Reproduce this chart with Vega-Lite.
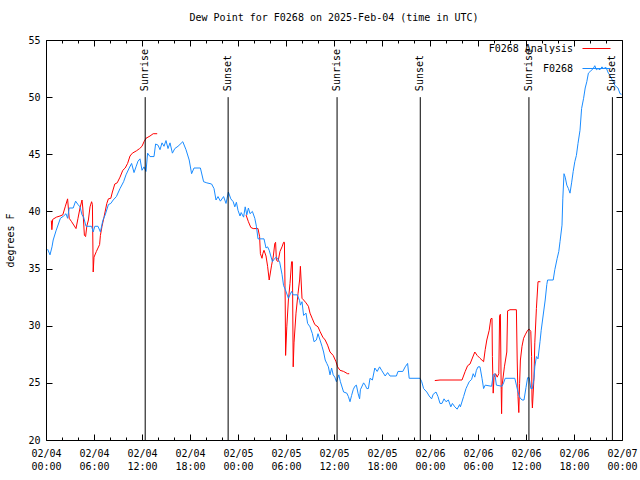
{
  "$schema": "https://vega.github.io/schema/vega-lite/v6.json",
  "width": 576,
  "height": 400,
  "autosize": {"type": "none"},
  "padding": {"left": 46, "top": 40, "right": 18, "bottom": 40},
  "background": "white",
  "title": {"text": "Dew Point for F0268 on 2025-Feb-04 (time in UTC)", "font": "DejaVu Sans Mono", "fontSize": 10, "fontWeight": "normal", "color": "black", "anchor": "middle", "offset": 11},
  "config": {
    "font": "DejaVu Sans Mono",
    "view": {"stroke": "black", "strokeWidth": 1},
    "axis": {"labelFont": "DejaVu Sans Mono", "labelFontSize": 10, "labelColor": "black", "titleFont": "DejaVu Sans Mono", "titleFontSize": 10, "titleFontWeight": "normal", "titleColor": "black", "domain": false, "grid": false, "tickColor": "black", "tickWidth": 1},
    "legend": {"labelFont": "DejaVu Sans Mono", "labelFontSize": 10, "labelColor": "black"}
  },
  "datasets": {
    "obs": [
      {"t":"2025-02-04T00:12","v":36.7},{"t":"2025-02-04T00:30","v":36.2},{"t":"2025-02-04T00:45","v":36.9},{"t":"2025-02-04T00:54","v":37.5},{"t":"2025-02-04T01:15","v":38.3},{"t":"2025-02-04T01:33","v":38.9},{"t":"2025-02-04T01:48","v":39.4},{"t":"2025-02-04T02:12","v":39.6},{"t":"2025-02-04T02:30","v":39.8},{"t":"2025-02-04T02:42","v":39.4},{"t":"2025-02-04T02:54","v":40.3},{"t":"2025-02-04T03:24","v":40.3},{"t":"2025-02-04T03:42","v":40.9},{"t":"2025-02-04T04:00","v":40.6},{"t":"2025-02-04T04:15","v":40.4},{"t":"2025-02-04T04:30","v":39.7},{"t":"2025-02-04T04:42","v":39.5},{"t":"2025-02-04T05:00","v":38.7},{"t":"2025-02-04T05:42","v":38.7},{"t":"2025-02-04T05:54","v":38.2},{"t":"2025-02-04T06:06","v":38.7},{"t":"2025-02-04T06:30","v":38.7},{"t":"2025-02-04T06:48","v":38.2},{"t":"2025-02-04T07:06","v":39.2},{"t":"2025-02-04T07:24","v":39.7},{"t":"2025-02-04T07:48","v":40.6},{"t":"2025-02-04T08:06","v":40.7},{"t":"2025-02-04T08:24","v":41.0},{"t":"2025-02-04T08:48","v":41.3},{"t":"2025-02-04T09:15","v":42.0},{"t":"2025-02-04T09:42","v":42.6},{"t":"2025-02-04T10:00","v":43.2},{"t":"2025-02-04T10:24","v":43.8},{"t":"2025-02-04T10:42","v":44.2},{"t":"2025-02-04T11:00","v":43.4},{"t":"2025-02-04T11:15","v":43.9},{"t":"2025-02-04T11:30","v":44.4},{"t":"2025-02-04T11:45","v":44.6},{"t":"2025-02-04T12:00","v":43.6},{"t":"2025-02-04T12:15","v":43.9},{"t":"2025-02-04T12:30","v":43.5},{"t":"2025-02-04T12:42","v":45.1},{"t":"2025-02-04T13:00","v":44.8},{"t":"2025-02-04T13:30","v":44.8},{"t":"2025-02-04T13:42","v":45.9},{"t":"2025-02-04T14:00","v":45.8},{"t":"2025-02-04T14:15","v":45.4},{"t":"2025-02-04T14:30","v":46.0},{"t":"2025-02-04T14:45","v":45.7},{"t":"2025-02-04T15:00","v":46.2},{"t":"2025-02-04T15:15","v":45.5},{"t":"2025-02-04T15:30","v":46.0},{"t":"2025-02-04T15:48","v":45.1},{"t":"2025-02-04T16:06","v":45.5},{"t":"2025-02-04T16:30","v":45.7},{"t":"2025-02-04T17:06","v":46.1},{"t":"2025-02-04T17:30","v":45.4},{"t":"2025-02-04T17:54","v":44.5},{"t":"2025-02-04T18:12","v":43.3},{"t":"2025-02-04T18:30","v":43.8},{"t":"2025-02-04T19:18","v":43.8},{"t":"2025-02-04T19:42","v":42.6},{"t":"2025-02-04T20:06","v":42.5},{"t":"2025-02-04T20:42","v":42.4},{"t":"2025-02-04T21:00","v":42.0},{"t":"2025-02-04T21:15","v":41.0},{"t":"2025-02-04T21:30","v":41.3},{"t":"2025-02-04T21:48","v":40.9},{"t":"2025-02-04T22:12","v":41.3},{"t":"2025-02-04T22:30","v":40.7},{"t":"2025-02-04T22:48","v":41.7},{"t":"2025-02-04T23:06","v":41.1},{"t":"2025-02-04T23:24","v":40.85},{"t":"2025-02-04T23:36","v":40.4},{"t":"2025-02-04T23:48","v":40.8},
      {"t":"2025-02-05T00:00","v":40.1},{"t":"2025-02-05T00:15","v":39.6},{"t":"2025-02-05T00:24","v":39.9},{"t":"2025-02-05T00:42","v":39.5},{"t":"2025-02-05T00:54","v":40.4},{"t":"2025-02-05T01:06","v":39.7},{"t":"2025-02-05T01:18","v":40.3},{"t":"2025-02-05T01:30","v":39.8},{"t":"2025-02-05T01:48","v":40.0},{"t":"2025-02-05T02:06","v":39.4},{"t":"2025-02-05T02:18","v":38.7},{"t":"2025-02-05T02:30","v":37.6},{"t":"2025-02-05T03:15","v":37.6},{"t":"2025-02-05T03:30","v":36.8},{"t":"2025-02-05T03:42","v":36.9},{"t":"2025-02-05T03:54","v":36.6},{"t":"2025-02-05T04:18","v":35.6},{"t":"2025-02-05T04:36","v":35.9},{"t":"2025-02-05T04:48","v":36.0},{"t":"2025-02-05T05:12","v":35.6},{"t":"2025-02-05T05:30","v":34.5},{"t":"2025-02-05T05:42","v":33.5},{"t":"2025-02-05T05:54","v":33.2},{"t":"2025-02-05T06:18","v":32.4},{"t":"2025-02-05T06:30","v":32.7},{"t":"2025-02-05T06:42","v":33.0},{"t":"2025-02-05T06:54","v":32.7},{"t":"2025-02-05T07:24","v":32.7},{"t":"2025-02-05T07:42","v":32.2},{"t":"2025-02-05T07:48","v":31.8},{"t":"2025-02-05T08:00","v":32.1},{"t":"2025-02-05T08:12","v":30.9},{"t":"2025-02-05T08:30","v":31.1},{"t":"2025-02-05T08:42","v":30.2},{"t":"2025-02-05T09:00","v":29.9},{"t":"2025-02-05T09:18","v":29.3},{"t":"2025-02-05T09:30","v":28.6},{"t":"2025-02-05T09:48","v":28.75},{"t":"2025-02-05T10:00","v":29.3},{"t":"2025-02-05T10:15","v":28.75},{"t":"2025-02-05T10:30","v":28.2},{"t":"2025-02-05T10:42","v":27.7},{"t":"2025-02-05T10:54","v":27.0},{"t":"2025-02-05T11:06","v":26.7},{"t":"2025-02-05T11:18","v":26.4},{"t":"2025-02-05T11:30","v":25.7},{"t":"2025-02-05T11:42","v":26.3},{"t":"2025-02-05T11:54","v":25.7},{"t":"2025-02-05T12:06","v":25.5},{"t":"2025-02-05T12:18","v":25.1},{"t":"2025-02-05T12:36","v":25.7},{"t":"2025-02-05T12:48","v":25.1},{"t":"2025-02-05T13:12","v":24.2},{"t":"2025-02-05T13:36","v":24.1},{"t":"2025-02-05T13:48","v":23.8},{"t":"2025-02-05T14:00","v":23.35},{"t":"2025-02-05T14:12","v":23.9},{"t":"2025-02-05T14:24","v":24.4},{"t":"2025-02-05T14:36","v":24.7},{"t":"2025-02-05T14:48","v":24.8},{"t":"2025-02-05T15:00","v":24.1},{"t":"2025-02-05T15:12","v":23.6},{"t":"2025-02-05T15:18","v":24.4},{"t":"2025-02-05T15:42","v":25.0},{"t":"2025-02-05T15:54","v":24.8},{"t":"2025-02-05T16:06","v":24.5},{"t":"2025-02-05T16:18","v":24.5},{"t":"2025-02-05T16:30","v":25.4},{"t":"2025-02-05T16:48","v":25.25},{"t":"2025-02-05T17:06","v":26.3},{"t":"2025-02-05T17:24","v":26.0},{"t":"2025-02-05T17:42","v":26.4},{"t":"2025-02-05T17:57","v":26.1},{"t":"2025-02-05T18:24","v":25.6},{"t":"2025-02-05T18:42","v":25.9},{"t":"2025-02-05T19:00","v":25.6},{"t":"2025-02-05T19:48","v":25.6},{"t":"2025-02-05T20:00","v":26.0},{"t":"2025-02-05T20:36","v":26.0},{"t":"2025-02-05T20:54","v":26.4},{"t":"2025-02-05T21:12","v":26.7},{"t":"2025-02-05T21:24","v":25.4},{"t":"2025-02-05T22:45","v":25.4},{"t":"2025-02-05T22:58","v":25.1},{"t":"2025-02-05T23:12","v":24.5},{"t":"2025-02-05T23:36","v":24.2},{"t":"2025-02-05T23:54","v":23.85},
      {"t":"2025-02-06T00:12","v":23.6},{"t":"2025-02-06T00:24","v":24.0},{"t":"2025-02-06T00:45","v":24.2},{"t":"2025-02-06T01:00","v":23.8},{"t":"2025-02-06T01:15","v":23.2},{"t":"2025-02-06T01:30","v":23.2},{"t":"2025-02-06T01:45","v":23.6},{"t":"2025-02-06T02:00","v":23.35},{"t":"2025-02-06T02:18","v":23.5},{"t":"2025-02-06T02:36","v":22.9},{"t":"2025-02-06T02:48","v":23.2},{"t":"2025-02-06T03:06","v":22.9},{"t":"2025-02-06T03:24","v":22.7},{"t":"2025-02-06T03:42","v":23.1},{"t":"2025-02-06T03:48","v":22.9},{"t":"2025-02-06T04:12","v":23.8},{"t":"2025-02-06T04:30","v":24.5},{"t":"2025-02-06T04:42","v":24.8},{"t":"2025-02-06T04:54","v":25.1},{"t":"2025-02-06T05:12","v":25.3},{"t":"2025-02-06T05:24","v":25.8},{"t":"2025-02-06T05:36","v":25.5},{"t":"2025-02-06T05:48","v":26.1},{"t":"2025-02-06T06:00","v":26.4},{"t":"2025-02-06T06:15","v":26.4},{"t":"2025-02-06T06:30","v":25.4},{"t":"2025-02-06T06:42","v":24.5},{"t":"2025-02-06T06:54","v":24.8},{"t":"2025-02-06T07:42","v":24.7},{"t":"2025-02-06T07:54","v":25.7},{"t":"2025-02-06T08:06","v":25.8},{"t":"2025-02-06T08:18","v":24.8},{"t":"2025-02-06T09:00","v":24.7},{"t":"2025-02-06T09:12","v":25.0},{"t":"2025-02-06T09:24","v":25.4},{"t":"2025-02-06T10:36","v":25.4},{"t":"2025-02-06T10:48","v":24.8},{"t":"2025-02-06T11:00","v":24.2},{"t":"2025-02-06T11:15","v":23.7},{"t":"2025-02-06T11:30","v":23.5},{"t":"2025-02-06T11:45","v":23.5},{"t":"2025-02-06T12:00","v":24.6},{"t":"2025-02-06T12:12","v":25.45},{"t":"2025-02-06T12:24","v":25.45},{"t":"2025-02-06T12:36","v":24.5},{"t":"2025-02-06T12:48","v":24.5},{"t":"2025-02-06T13:00","v":25.4},{"t":"2025-02-06T13:06","v":26.4},{"t":"2025-02-06T13:18","v":27.3},{"t":"2025-02-06T13:30","v":27.1},{"t":"2025-02-06T13:45","v":28.6},{"t":"2025-02-06T13:54","v":29.6},{"t":"2025-02-06T14:12","v":31.2},{"t":"2025-02-06T14:24","v":32.25},{"t":"2025-02-06T14:36","v":33.6},{"t":"2025-02-06T14:42","v":34.0},{"t":"2025-02-06T15:24","v":34.0},{"t":"2025-02-06T15:36","v":34.9},{"t":"2025-02-06T15:54","v":35.9},{"t":"2025-02-06T16:06","v":36.5},{"t":"2025-02-06T16:15","v":37.35},{"t":"2025-02-06T16:30","v":38.8},{"t":"2025-02-06T16:36","v":41.1},{"t":"2025-02-06T16:45","v":43.3},{"t":"2025-02-06T16:54","v":43.0},{"t":"2025-02-06T17:06","v":42.3},{"t":"2025-02-06T17:18","v":42.0},{"t":"2025-02-06T17:30","v":41.6},{"t":"2025-02-06T17:42","v":42.5},{"t":"2025-02-06T17:54","v":43.5},{"t":"2025-02-06T18:06","v":44.35},{"t":"2025-02-06T18:18","v":44.9},{"t":"2025-02-06T18:30","v":45.95},{"t":"2025-02-06T18:45","v":47.1},{"t":"2025-02-06T18:57","v":49.0},{"t":"2025-02-06T19:12","v":49.9},{"t":"2025-02-06T19:24","v":50.8},{"t":"2025-02-06T19:36","v":51.35},{"t":"2025-02-06T19:48","v":52.1},{"t":"2025-02-06T20:06","v":52.3},{"t":"2025-02-06T20:24","v":52.5},{"t":"2025-02-06T20:36","v":52.75},{"t":"2025-02-06T20:48","v":52.4},{"t":"2025-02-06T21:00","v":52.5},{"t":"2025-02-06T21:15","v":52.4},{"t":"2025-02-06T21:30","v":52.65},{"t":"2025-02-06T21:42","v":52.5},{"t":"2025-02-06T22:00","v":52.6},{"t":"2025-02-06T22:18","v":52.1},{"t":"2025-02-06T22:30","v":51.9},{"t":"2025-02-06T22:42","v":51.6},{"t":"2025-02-06T22:54","v":51.35},{"t":"2025-02-06T23:06","v":51.05},{"t":"2025-02-06T23:18","v":50.9},{"t":"2025-02-06T23:30","v":50.8},{"t":"2025-02-06T23:45","v":50.3},{"t":"2025-02-06T23:57","v":50.25}
    ],
    "ana": [
      {"seg":1,"t":"2025-02-04T00:40","v":39.2},{"seg":1,"t":"2025-02-04T00:44","v":38.4},{"seg":1,"t":"2025-02-04T00:50","v":39.3},{"seg":1,"t":"2025-02-04T01:18","v":39.5},{"seg":1,"t":"2025-02-04T01:45","v":39.6},{"seg":1,"t":"2025-02-04T02:06","v":39.7},{"seg":1,"t":"2025-02-04T02:24","v":40.4},{"seg":1,"t":"2025-02-04T02:42","v":41.1},{"seg":1,"t":"2025-02-04T02:54","v":39.4},{"seg":1,"t":"2025-02-04T03:12","v":39.1},{"seg":1,"t":"2025-02-04T03:45","v":38.5},{"seg":1,"t":"2025-02-04T04:00","v":39.4},{"seg":1,"t":"2025-02-04T04:15","v":40.3},{"seg":1,"t":"2025-02-04T04:30","v":41.0},{"seg":1,"t":"2025-02-04T04:36","v":40.3},{"seg":1,"t":"2025-02-04T04:48","v":37.9},{"seg":1,"t":"2025-02-04T04:57","v":37.8},{"seg":1,"t":"2025-02-04T05:06","v":38.7},{"seg":1,"t":"2025-02-04T05:18","v":39.25},{"seg":1,"t":"2025-02-04T05:30","v":40.4},{"seg":1,"t":"2025-02-04T05:42","v":40.85},{"seg":1,"t":"2025-02-04T05:48","v":40.6},{"seg":1,"t":"2025-02-04T05:54","v":34.7},{"seg":1,"t":"2025-02-04T06:00","v":36.0},{"seg":1,"t":"2025-02-04T06:18","v":36.5},{"seg":1,"t":"2025-02-04T06:42","v":37.1},{"seg":1,"t":"2025-02-04T06:48","v":37.9},{"seg":1,"t":"2025-02-04T07:00","v":38.7},{"seg":1,"t":"2025-02-04T07:15","v":39.5},{"seg":1,"t":"2025-02-04T07:36","v":40.7},{"seg":1,"t":"2025-02-04T07:48","v":41.1},{"seg":1,"t":"2025-02-04T08:06","v":41.15},{"seg":1,"t":"2025-02-04T08:18","v":41.7},{"seg":1,"t":"2025-02-04T08:36","v":42.4},{"seg":1,"t":"2025-02-04T08:54","v":42.5},{"seg":1,"t":"2025-02-04T09:15","v":43.0},{"seg":1,"t":"2025-02-04T09:36","v":43.6},{"seg":1,"t":"2025-02-04T09:54","v":43.8},{"seg":1,"t":"2025-02-04T10:12","v":44.2},{"seg":1,"t":"2025-02-04T10:30","v":44.85},{"seg":1,"t":"2025-02-04T10:48","v":45.1},{"seg":1,"t":"2025-02-04T11:18","v":45.3},{"seg":1,"t":"2025-02-04T11:42","v":45.5},{"seg":1,"t":"2025-02-04T12:00","v":45.7},{"seg":1,"t":"2025-02-04T12:15","v":46.1},{"seg":1,"t":"2025-02-04T12:30","v":46.4},{"seg":1,"t":"2025-02-04T13:00","v":46.6},{"seg":1,"t":"2025-02-04T13:24","v":46.8},{"seg":1,"t":"2025-02-04T13:54","v":46.8},
      {"seg":2,"t":"2025-02-05T01:00","v":39.7},{"seg":2,"t":"2025-02-05T01:18","v":39.1},{"seg":2,"t":"2025-02-05T01:36","v":38.6},{"seg":2,"t":"2025-02-05T01:54","v":38.5},{"seg":2,"t":"2025-02-05T02:30","v":38.5},{"seg":2,"t":"2025-02-05T02:42","v":37.8},{"seg":2,"t":"2025-02-05T02:48","v":36.3},{"seg":2,"t":"2025-02-05T03:00","v":35.9},{"seg":2,"t":"2025-02-05T03:06","v":36.3},{"seg":2,"t":"2025-02-05T03:15","v":36.6},{"seg":2,"t":"2025-02-05T03:30","v":36.1},{"seg":2,"t":"2025-02-05T03:42","v":35.2},{"seg":2,"t":"2025-02-05T03:54","v":34.0},{"seg":2,"t":"2025-02-05T04:12","v":35.3},{"seg":2,"t":"2025-02-05T04:24","v":36.0},{"seg":2,"t":"2025-02-05T04:36","v":37.2},{"seg":2,"t":"2025-02-05T04:42","v":37.3},{"seg":2,"t":"2025-02-05T04:48","v":35.75},{"seg":2,"t":"2025-02-05T05:00","v":35.6},{"seg":2,"t":"2025-02-05T05:15","v":36.5},{"seg":2,"t":"2025-02-05T05:30","v":36.9},{"seg":2,"t":"2025-02-05T05:42","v":37.3},{"seg":2,"t":"2025-02-05T05:48","v":37.3},{"seg":2,"t":"2025-02-05T05:54","v":32.25},{"seg":2,"t":"2025-02-05T05:57","v":27.4},{"seg":2,"t":"2025-02-05T06:06","v":29.9},{"seg":2,"t":"2025-02-05T06:18","v":32.25},{"seg":2,"t":"2025-02-05T06:30","v":33.7},{"seg":2,"t":"2025-02-05T06:42","v":35.6},{"seg":2,"t":"2025-02-05T06:48","v":35.6},{"seg":2,"t":"2025-02-05T06:54","v":26.4},{"seg":2,"t":"2025-02-05T07:00","v":28.5},{"seg":2,"t":"2025-02-05T07:15","v":31.1},{"seg":2,"t":"2025-02-05T07:30","v":32.8},{"seg":2,"t":"2025-02-05T07:42","v":34.0},{"seg":2,"t":"2025-02-05T07:48","v":35.2},{"seg":2,"t":"2025-02-05T08:00","v":32.4},{"seg":2,"t":"2025-02-05T08:12","v":32.25},{"seg":2,"t":"2025-02-05T08:30","v":32.0},{"seg":2,"t":"2025-02-05T08:48","v":31.7},{"seg":2,"t":"2025-02-05T09:00","v":31.1},{"seg":2,"t":"2025-02-05T09:18","v":30.6},{"seg":2,"t":"2025-02-05T09:36","v":30.1},{"seg":2,"t":"2025-02-05T10:00","v":29.9},{"seg":2,"t":"2025-02-05T10:15","v":29.5},{"seg":2,"t":"2025-02-05T10:36","v":29.0},{"seg":2,"t":"2025-02-05T10:54","v":28.75},{"seg":2,"t":"2025-02-05T11:12","v":28.3},{"seg":2,"t":"2025-02-05T11:30","v":27.7},{"seg":2,"t":"2025-02-05T11:54","v":27.4},{"seg":2,"t":"2025-02-05T12:15","v":26.85},{"seg":2,"t":"2025-02-05T12:27","v":26.4},{"seg":2,"t":"2025-02-05T12:45","v":26.1},{"seg":2,"t":"2025-02-05T13:12","v":26.0},{"seg":2,"t":"2025-02-05T13:42","v":25.8},{"seg":2,"t":"2025-02-05T13:54","v":25.8},
      {"seg":3,"t":"2025-02-06T00:36","v":25.2},{"seg":3,"t":"2025-02-06T01:15","v":25.25},{"seg":3,"t":"2025-02-06T04:00","v":25.25},{"seg":3,"t":"2025-02-06T04:24","v":26.0},{"seg":3,"t":"2025-02-06T04:42","v":26.5},{"seg":3,"t":"2025-02-06T05:00","v":26.65},{"seg":3,"t":"2025-02-06T05:12","v":27.0},{"seg":3,"t":"2025-02-06T05:36","v":27.7},{"seg":3,"t":"2025-02-06T05:54","v":27.4},{"seg":3,"t":"2025-02-06T06:15","v":27.15},{"seg":3,"t":"2025-02-06T06:42","v":26.85},{"seg":3,"t":"2025-02-06T06:54","v":27.9},{"seg":3,"t":"2025-02-06T07:06","v":28.75},{"seg":3,"t":"2025-02-06T07:24","v":29.6},{"seg":3,"t":"2025-02-06T07:36","v":30.6},{"seg":3,"t":"2025-02-06T07:45","v":30.65},{"seg":3,"t":"2025-02-06T07:48","v":27.3},{"seg":3,"t":"2025-02-06T07:54","v":24.1},{"seg":3,"t":"2025-02-06T08:00","v":25.5},{"seg":3,"t":"2025-02-06T08:12","v":25.8},{"seg":3,"t":"2025-02-06T08:24","v":25.5},{"seg":3,"t":"2025-02-06T08:36","v":25.8},{"seg":3,"t":"2025-02-06T08:42","v":30.9},{"seg":3,"t":"2025-02-06T08:48","v":31.0},{"seg":3,"t":"2025-02-06T08:54","v":24.4},{"seg":3,"t":"2025-02-06T08:57","v":22.3},{"seg":3,"t":"2025-02-06T09:00","v":24.7},{"seg":3,"t":"2025-02-06T09:18","v":26.4},{"seg":3,"t":"2025-02-06T09:36","v":27.7},{"seg":3,"t":"2025-02-06T09:42","v":31.3},{"seg":3,"t":"2025-02-06T10:00","v":31.4},{"seg":3,"t":"2025-02-06T10:48","v":31.4},{"seg":3,"t":"2025-02-06T10:54","v":27.0},{"seg":3,"t":"2025-02-06T11:00","v":23.8},{"seg":3,"t":"2025-02-06T11:06","v":22.4},{"seg":3,"t":"2025-02-06T11:12","v":24.95},{"seg":3,"t":"2025-02-06T11:18","v":27.0},{"seg":3,"t":"2025-02-06T11:30","v":28.2},{"seg":3,"t":"2025-02-06T11:42","v":28.9},{"seg":3,"t":"2025-02-06T11:54","v":29.2},{"seg":3,"t":"2025-02-06T12:12","v":29.6},{"seg":3,"t":"2025-02-06T12:24","v":29.7},{"seg":3,"t":"2025-02-06T12:36","v":29.5},{"seg":3,"t":"2025-02-06T12:42","v":27.3},{"seg":3,"t":"2025-02-06T12:45","v":23.5},{"seg":3,"t":"2025-02-06T12:48","v":22.8},{"seg":3,"t":"2025-02-06T13:00","v":25.5},{"seg":3,"t":"2025-02-06T13:06","v":28.5},{"seg":3,"t":"2025-02-06T13:18","v":31.5},{"seg":3,"t":"2025-02-06T13:30","v":33.85},{"seg":3,"t":"2025-02-06T13:48","v":33.85}
    ],
    "events": [
      {"t":"2025-02-04T12:24","label":"Sunrise"},{"t":"2025-02-04T22:46","label":"Sunset"},{"t":"2025-02-05T12:23","label":"Sunrise"},{"t":"2025-02-05T22:47","label":"Sunset"},{"t":"2025-02-06T12:22","label":"Sunrise"},{"t":"2025-02-06T22:48","label":"Sunset"}
    ]
  },
  "resolve": {"axis": {"x": "independent", "y": "independent"}},
  "layer": [
    {
      "data": {"name": "ana"},
      "mark": {"type": "line", "strokeWidth": 1},
      "encoding": {
        "x": {"field": "t", "type": "temporal", "scale": {"domain": [{"year": 2025, "month": 2, "date": 4}, {"year": 2025, "month": 2, "date": 7}]},
              "axis": {"orient": "bottom", "title": null, "tickCount": 12, "tickSize": -6, "labelPadding": 14, "labelLineHeight": 13, "labelBaseline": "top", "labelFlush": false, "labelOverlap": false, "format": "%m/%d %H:%M", "labelExpr": "split(datum.label, ' ')"}},
        "y": {"field": "v", "type": "quantitative", "scale": {"domain": [20, 55], "nice": false, "zero": false},
              "axis": {"orient": "left", "title": "degrees F", "values": [20, 25, 30, 35, 40, 45, 50, 55], "tickSize": -6, "labelPadding": 12, "titlePadding": 12}},
        "detail": {"field": "seg"},
        "color": {"datum": "F0268 Analysis", "type": "nominal", "scale": {"domain": ["F0268 Analysis", "F0268"], "range": ["#ff0000", "#1a8cff"]},
                  "legend": {"title": null, "orient": "none", "legendX": 536, "legendY": -6, "symbolType": "stroke", "symbolSize": 784, "symbolStrokeWidth": 1, "labelAlign": "right", "labelOffset": -38, "rowPadding": -14, "padding": 0,
                             "encode": {"symbols": {"update": {"stroke": {"scale": "color", "field": "value"}, "strokeWidth": {"value": 1}}}}}}
      }
    },
    {
      "data": {"name": "obs"},
      "mark": {"type": "line", "strokeWidth": 1},
      "encoding": {
        "x": {"field": "t", "type": "temporal", "axis": {"orient": "top", "title": null, "tickCount": 12, "tickSize": -6, "labels": false}},
        "y": {"field": "v", "type": "quantitative", "axis": {"orient": "right", "title": null, "values": [20, 25, 30, 35, 40, 45, 50, 55], "tickSize": -6, "labels": false}},
        "color": {"datum": "F0268", "type": "nominal"}
      }
    },
    {
      "data": {"name": "events"},
      "mark": {"type": "rule", "color": "black", "strokeWidth": 1},
      "encoding": {
        "x": {"field": "t", "type": "temporal", "axis": {"orient": "bottom", "title": null, "tickSize": -3, "labels": false, "values": [
          {"year":2025,"month":2,"date":4,"hours":2},{"year":2025,"month":2,"date":4,"hours":4},{"year":2025,"month":2,"date":4,"hours":8},{"year":2025,"month":2,"date":4,"hours":10},{"year":2025,"month":2,"date":4,"hours":14},{"year":2025,"month":2,"date":4,"hours":16},{"year":2025,"month":2,"date":4,"hours":20},{"year":2025,"month":2,"date":4,"hours":22},
          {"year":2025,"month":2,"date":5,"hours":2},{"year":2025,"month":2,"date":5,"hours":4},{"year":2025,"month":2,"date":5,"hours":8},{"year":2025,"month":2,"date":5,"hours":10},{"year":2025,"month":2,"date":5,"hours":14},{"year":2025,"month":2,"date":5,"hours":16},{"year":2025,"month":2,"date":5,"hours":20},{"year":2025,"month":2,"date":5,"hours":22},
          {"year":2025,"month":2,"date":6,"hours":2},{"year":2025,"month":2,"date":6,"hours":4},{"year":2025,"month":2,"date":6,"hours":8},{"year":2025,"month":2,"date":6,"hours":10},{"year":2025,"month":2,"date":6,"hours":14},{"year":2025,"month":2,"date":6,"hours":16},{"year":2025,"month":2,"date":6,"hours":20},{"year":2025,"month":2,"date":6,"hours":22}]}},
        "y": {"datum": 20, "type": "quantitative", "axis": null},
        "y2": {"datum": 50}
      }
    },
    {
      "data": {"name": "events"},
      "mark": {"type": "text", "angle": 270, "align": "left", "baseline": "middle", "dx": 6, "fontSize": 10, "font": "DejaVu Sans Mono", "color": "black"},
      "encoding": {
        "x": {"field": "t", "type": "temporal", "axis": {"orient": "top", "title": null, "tickSize": -3, "labels": false, "values": [
          {"year":2025,"month":2,"date":4,"hours":2},{"year":2025,"month":2,"date":4,"hours":4},{"year":2025,"month":2,"date":4,"hours":8},{"year":2025,"month":2,"date":4,"hours":10},{"year":2025,"month":2,"date":4,"hours":14},{"year":2025,"month":2,"date":4,"hours":16},{"year":2025,"month":2,"date":4,"hours":20},{"year":2025,"month":2,"date":4,"hours":22},
          {"year":2025,"month":2,"date":5,"hours":2},{"year":2025,"month":2,"date":5,"hours":4},{"year":2025,"month":2,"date":5,"hours":8},{"year":2025,"month":2,"date":5,"hours":10},{"year":2025,"month":2,"date":5,"hours":14},{"year":2025,"month":2,"date":5,"hours":16},{"year":2025,"month":2,"date":5,"hours":20},{"year":2025,"month":2,"date":5,"hours":22},
          {"year":2025,"month":2,"date":6,"hours":2},{"year":2025,"month":2,"date":6,"hours":4},{"year":2025,"month":2,"date":6,"hours":8},{"year":2025,"month":2,"date":6,"hours":10},{"year":2025,"month":2,"date":6,"hours":14},{"year":2025,"month":2,"date":6,"hours":16},{"year":2025,"month":2,"date":6,"hours":20},{"year":2025,"month":2,"date":6,"hours":22}]}},
        "y": {"datum": 50, "type": "quantitative", "axis": null},
        "text": {"field": "label"}
      }
    }
  ]
}
